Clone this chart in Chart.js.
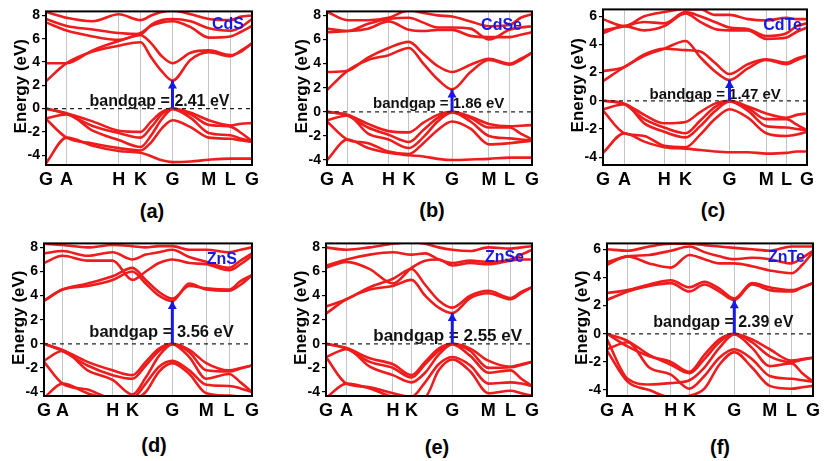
<!DOCTYPE html>
<html><head><meta charset="utf-8">
<script src="https://cdn.jsdelivr.net/npm/chart.js@4.4.0/dist/chart.umd.min.js"></script>
<style>
html,body{margin:0;padding:0;background:#fff;overflow:hidden;width:825px;height:461px;position:relative;}
canvas{position:absolute;}
.lab{position:absolute;font:bold 20px "Liberation Sans",Arial,sans-serif;transform:translate(-50%,-50%);color:#000;white-space:nowrap;}
</style></head><body>
<script>
// ---------- data ----------
const kLabels = ['G','A','H','K','G','M','L','G'];
const yTicks8 = [-4,-3,-2,-1,0,1,2,3,4,5,6,7,8];
const yTicks6 = [-4,-3,-2,-1,0,1,2,3,4,5,6];
const names = ['CdS','CdSe','CdTe','ZnS','ZnSe','ZnTe'];
const panelTags = ['(a)','(b)','(c)','(d)','(e)','(f)'];
const gaps = [2.41, 1.86, 1.47, 3.56, 2.55, 2.39];

// high-symmetry point positions (fraction of path) for each panel
const kptsCdS  = [0, 0.10, 0.353, 0.459, 0.614, 0.79, 0.895, 1];
const kptsCdSe = [0, 0.10, 0.30, 0.40, 0.61, 0.79, 0.89, 1];
const kptsCdTe = [0, 0.105, 0.30, 0.405, 0.62, 0.80, 0.90, 1];
const kptsZnS  = [0, 0.089, 0.33, 0.425, 0.617, 0.78, 0.89, 1];
const kptsZnSe = [0, 0.10, 0.325, 0.415, 0.613, 0.788, 0.896, 1];
const kptsZnTe = [0, 0.10, 0.31, 0.40, 0.618, 0.79, 0.896, 1];

// band energies (eV) at: G, A, A-H mid, H, K, K-G 1/3, K-G 2/3, G, G-M mid, M, L, L-G mid, G
const bandsCdS = [
 [0,-0.4,-1.1,-1.9,-2.0,-1.1,-0.3,0,-0.35,-1.0,-1.45,-1.3,-1.25],
 [0,-0.45,-1.5,-2.1,-2.5,-1.6,-0.5,0,-0.5,-1.4,-1.55,-2.1,-2.8],
 [-0.85,-0.5,-1.9,-2.7,-3.3,-2.3,-0.9,-0.05,-0.8,-2.1,-2.3,-2.6,-2.8],
 [-0.9,-2.5,-3.0,-3.4,-3.6,-2.9,-1.7,-1.0,-1.6,-2.5,-2.6,-2.75,-2.85],
 [-4.7,-2.5,-3.2,-3.65,-3.8,-4.1,-4.45,-4.6,-4.55,-4.4,-4.3,-4.3,-4.3],
 [2.35,3.9,4.9,5.4,5.7,4.4,3.2,2.41,4.2,4.85,4.5,5.0,5.6],
 [3.9,3.9,5.0,5.8,6.3,5.6,4.5,3.9,4.8,5.0,4.6,4.9,5.6],
 [7.4,6.7,6.2,5.9,6.5,7.1,7.4,7.5,7.0,6.1,6.2,6.6,7.1],
 [7.7,7.1,6.8,6.5,6.4,7.2,7.6,7.7,7.5,6.9,6.7,7.0,7.7],
 [8.3,7.8,7.5,8.1,7.6,8.0,8.3,8.4,8.1,7.7,7.6,7.9,8.0]
];
const bandsCdSe = [
 [0,-0.25,-1.0,-1.6,-1.7,-0.9,-0.25,0,-0.4,-1.0,-1.2,-1.15,-1.1],
 [0,-0.3,-1.3,-1.9,-2.5,-1.5,-0.5,0,-0.5,-1.3,-1.3,-1.8,-2.3],
 [-0.7,-0.3,-1.8,-2.3,-3.0,-2.1,-0.8,-0.05,-0.8,-2.0,-2.2,-2.3,-2.4],
 [-0.8,-2.3,-2.6,-3.3,-3.5,-2.6,-1.5,-0.8,-1.4,-2.7,-2.6,-2.5,-2.4],
 [-4.0,-2.3,-3.0,-3.4,-3.6,-3.7,-3.9,-4.0,-3.95,-3.9,-3.8,-3.8,-3.8],
 [1.8,3.4,4.3,4.7,5.3,4.0,2.7,1.86,3.3,4.3,3.9,4.3,4.9],
 [3.3,3.4,4.5,5.3,5.8,4.8,3.8,3.3,3.9,4.4,4.0,4.4,4.9],
 [6.6,6.7,6.9,7.5,6.8,6.7,6.8,6.8,6.3,6.2,6.2,6.4,6.6],
 [6.9,6.7,7.3,7.7,7.8,7.4,7.0,7.0,6.9,6.0,6.8,7.0,7.1],
 [8.3,7.6,7.6,7.8,8.4,8.2,8.0,7.9,7.5,7.1,7.2,7.8,8.1]
];
const bandsCdTe = [
 [0,-0.2,-1.0,-1.6,-1.5,-0.8,-0.2,0,-0.4,-0.9,-1.2,-1.0,-0.9],
 [0,-0.25,-1.3,-1.9,-2.3,-1.4,-0.45,0,-0.5,-1.3,-1.3,-1.7,-2.1],
 [-0.6,-0.25,-1.6,-2.2,-2.6,-1.8,-0.75,-0.05,-0.7,-1.8,-1.9,-2.0,-2.1],
 [-0.7,-2.3,-2.5,-3.2,-3.3,-2.4,-1.3,-0.6,-1.2,-2.3,-2.5,-2.4,-2.2],
 [-3.7,-2.3,-2.9,-3.3,-3.4,-3.5,-3.6,-3.65,-3.65,-3.75,-3.7,-3.6,-3.6],
 [1.4,2.4,3.2,3.7,4.25,3.1,2.1,1.47,2.3,2.9,2.6,2.9,3.2],
 [2.1,2.4,3.3,3.7,3.6,3.5,2.7,1.9,2.6,2.95,2.7,3.0,3.2],
 [4.8,5.3,5.0,5.3,6.2,5.6,5.1,5.0,5.0,4.4,4.5,4.9,5.2],
 [5.0,5.3,5.6,5.5,6.3,6.0,5.6,5.2,5.1,4.6,4.8,5.3,5.5],
 [5.8,5.3,6.0,6.3,6.5,6.5,6.1,6.1,5.8,5.7,5.9,5.8,5.8]
];
const bandsZnS = [
 [0,-0.5,-1.5,-2.2,-2.6,-1.5,-0.4,0,-0.5,-1.6,-2.2,-2.0,-1.8],
 [0,-0.6,-1.8,-2.6,-2.9,-1.8,-0.6,0,-0.7,-2.2,-2.3,-2.05,-1.8],
 [-1.4,-0.6,-2.2,-3.0,-4.2,-2.8,-1.0,-0.05,-1.1,-2.9,-2.5,-3.2,-4.0],
 [-1.5,-3.3,-3.8,-4.5,-4.5,-3.3,-1.9,-1.4,-2.2,-3.4,-3.5,-3.7,-4.0],
 [-4.5,-3.3,-4.1,-4.6,-4.6,-4.0,-2.3,-1.6,-2.5,-4.1,-4.3,-4.4,-4.5],
 [3.55,4.5,4.8,5.3,6.0,5.0,4.0,3.56,5.0,4.5,4.4,4.9,5.7],
 [3.6,4.5,5.0,5.6,6.3,5.3,4.3,3.75,4.8,4.6,4.5,5.2,5.7],
 [6.7,7.3,6.9,6.9,5.3,6.0,6.7,7.0,6.7,6.6,6.1,6.6,7.3],
 [7.5,7.7,7.3,7.6,7.0,7.4,7.6,7.8,7.2,6.8,6.3,6.9,7.5],
 [8.3,8.2,8.0,8.2,8.1,8.0,8.1,8.1,7.8,7.8,7.6,7.8,8.0]
];
const bandsZnSe = [
 [0,-0.35,-1.2,-1.7,-2.6,-1.5,-0.4,0,-0.4,-1.4,-1.9,-1.7,-1.5],
 [0,-0.4,-1.5,-2.0,-2.8,-1.7,-0.6,0,-0.6,-2.0,-1.95,-1.75,-1.5],
 [-1.1,-0.45,-1.9,-2.6,-3.2,-2.4,-0.9,-0.05,-1.0,-2.4,-2.2,-2.9,-3.5],
 [-1.1,-3.3,-3.6,-4.1,-4.4,-3.2,-1.7,-1.1,-1.8,-3.3,-3.2,-3.3,-3.5],
 [-4.5,-3.3,-3.7,-4.4,-4.5,-4.4,-2.2,-1.3,-2.3,-4.1,-3.9,-4.1,-4.3],
 [2.5,3.7,4.5,4.8,5.3,4.0,3.0,2.55,3.8,4.2,3.7,4.2,4.7],
 [3.1,3.7,4.7,5.4,6.2,4.9,3.6,3.0,4.0,4.4,3.8,4.3,4.7],
 [6.3,6.8,6.2,5.0,6.3,6.9,7.0,6.5,6.7,6.6,6.9,7.0,7.0],
 [6.5,7.0,7.4,7.6,7.4,7.5,7.0,6.7,6.9,6.8,7.0,7.4,7.8],
 [8.0,7.8,8.0,8.3,8.4,8.3,8.0,7.8,7.7,8.0,7.9,8.0,8.1]
];
const bandsZnTe = [
 [0,-0.9,-1.6,-2.0,-2.7,-1.5,-0.4,0,-0.4,-1.1,-1.9,-1.8,-1.7],
 [0,-0.5,-1.5,-2.2,-2.8,-1.8,-0.6,0,-0.6,-1.6,-2.0,-1.85,-1.7],
 [-0.4,-3.2,-3.6,-3.5,-3.3,-2.4,-1.0,-0.05,-1.0,-2.3,-2.1,-2.8,-3.4],
 [-1.1,-0.6,-2.4,-2.9,-3.9,-3.0,-1.7,-1.1,-1.8,-3.0,-3.2,-3.3,-3.4],
 [-1.2,-3.4,-4.0,-4.5,-4.4,-3.9,-2.2,-1.3,-2.4,-3.7,-3.9,-3.8,-3.7],
 [2.4,3.0,3.4,3.6,3.0,3.5,3.0,2.39,3.5,3.1,3.0,3.3,3.6],
 [2.9,3.1,3.5,3.8,3.3,3.7,3.2,2.5,3.6,3.3,3.1,3.3,3.6],
 [4.9,5.5,5.0,4.7,5.6,5.3,5.0,5.0,4.8,4.5,4.3,4.9,5.8],
 [5.1,5.5,5.6,5.9,6.2,5.8,5.5,5.3,5.4,5.3,5.0,5.4,5.9],
 [6.0,5.9,6.2,6.4,6.4,6.3,6.2,6.1,6.0,5.9,6.2,6.2,6.2]
];

// ---------- layout (pixels / styles only) ----------
const layout = [
 {L:46, T:9,   R:258, B:165, ymin:-4.85, ymax:8.35, gapDx:-83, gapFont:16, gapDy:3, nameInset:8,  nameDy:13, labX:152, labY:211},
 {L:327,T:9,   R:538, B:165, ymin:-4.41, ymax:8.33, gapDx:-79, gapFont:15, gapDy:4, nameInset:10, nameDy:14, labX:432, labY:210},
 {L:603,T:7,   R:813, B:165, ymin:-4.56, ymax:6.49, gapDx:-80, gapFont:15, gapDy:2, nameInset:5,  nameDy:16, labX:713, labY:210},
 {L:44, T:241, R:258, B:396, ymin:-4.33, ymax:8.33, gapDx:-83, gapFont:16.5, gapDy:7, nameInset:15, nameDy:16, labX:154, labY:445},
 {L:326,T:241, R:538, B:396, ymin:-4.33, ymax:8.33, gapDx:-79, gapFont:17, gapDy:3, nameInset:8,  nameDy:14, labX:437, labY:447},
 {L:607,T:241, R:819, B:396, ymin:-4.42, ymax:6.42, gapDx:-81, gapFont:16, gapDy:7, nameInset:8,  nameDy:14, labX:720, labY:447}
];
const kptsAll = [kptsCdS,kptsCdSe,kptsCdTe,kptsZnS,kptsZnSe,kptsZnTe];
const bandsAll = [bandsCdS,bandsCdSe,bandsCdTe,bandsZnS,bandsZnSe,bandsZnTe];
const yTicksAll = [yTicks8,yTicks8,yTicks6,yTicks8,yTicks8,yTicks6];

const FONT = '"Liberation Sans", Arial, sans-serif';
const RED = '#ee1c1c';
const BLUE = '#1818e6';
const PADT = 8, PADR = 5, YW = 44, XH = 30;

function sampleX(k){
  return [k[0], k[1], (k[1]+k[2])/2, k[2], k[3], k[3]+(k[4]-k[3])/3, k[3]+2*(k[4]-k[3])/3,
          k[4], (k[4]+k[5])/2, k[5], k[6], (k[6]+k[7])/2, k[7]];
}

const decor = {
  id:'decor',
  beforeDatasetsDraw(chart){
    const o = chart.options.plugins.decor, ctx = chart.ctx;
    const xs = chart.scales.x, ys = chart.scales.y;
    ctx.save();
    ctx.font = 'bold ' + o.gapFont + 'px ' + FONT;
    ctx.fillStyle = '#111';
    ctx.textAlign = 'left';
    ctx.textBaseline = 'alphabetic';
    ctx.fillText('bandgap = ' + o.gap.toFixed(2) + ' eV', xs.getPixelForValue(o.gx) + o.gapDx, ys.getPixelForValue(0) - o.gapDy);
    ctx.restore();
  },
  afterDatasetsDraw(chart){
    const o = chart.options.plugins.decor, ctx = chart.ctx;
    const xs = chart.scales.x, ys = chart.scales.y, a = chart.chartArea;
    const px = xs.getPixelForValue(o.gx), py = ys.getPixelForValue(o.gap);
    ctx.save();
    ctx.fillStyle = BLUE;
    ctx.beginPath();
    ctx.moveTo(px, py);
    ctx.lineTo(px - 4.5, py + 8);
    ctx.lineTo(px + 4.5, py + 8);
    ctx.closePath();
    ctx.fill();
    ctx.font = 'bold 16px ' + FONT;
    ctx.fillStyle = BLUE;
    ctx.textAlign = 'right';
    ctx.textBaseline = 'middle';
    ctx.fillText(o.name, a.right - o.nameInset, a.top + o.nameDy);
    ctx.strokeStyle = '#000';
    ctx.lineWidth = 2;
    ctx.strokeRect(a.left, a.top, a.right - a.left, a.bottom - a.top);
    ctx.translate(a.left - 25, (a.top + a.bottom) / 2 - 2);
    ctx.rotate(-Math.PI / 2);
    ctx.font = 'bold 17px ' + FONT;
    ctx.fillStyle = '#000';
    ctx.textAlign = 'center';
    ctx.textBaseline = 'middle';
    ctx.fillText('Energy (eV)', 0, 0);
    ctx.restore();
  }
};

for (let p = 0; p < 6; p++) {
  const lay = layout[p], k = kptsAll[p], xsamp = sampleX(k);
  const cv = document.createElement('canvas');
  const w = (lay.R - lay.L) + YW + PADR, h = (lay.B - lay.T) + PADT + XH;
  cv.width = w; cv.height = h;
  cv.style.left = (lay.L - YW) + 'px'; cv.style.top = (lay.T - PADT) + 'px';
  cv.style.width = w + 'px'; cv.style.height = h + 'px';
  document.body.appendChild(cv);

  const datasets = [];
  datasets.push({
    data: [{x:k[4], y:0}, {x:k[4], y:gaps[p]}],
    borderColor: BLUE, borderWidth: 3, pointRadius: 0, order: 0, clip: 0
  });
  datasets.push({
    data: [{x:0, y:0}, {x:1, y:0}],
    borderColor: '#222', borderWidth: 1.2, borderDash: [4, 4], pointRadius: 0, order: 1, clip: 0
  });
  bandsAll[p].forEach(b => {
    datasets.push({
      data: b.map((v, i) => ({x: xsamp[i], y: v})),
      borderColor: RED, borderWidth: 2.6, pointRadius: 0,
      cubicInterpolationMode: 'monotone', order: 2, clip: 0
    });
  });

  const yt = yTicksAll[p];
  new Chart(cv, {
    type: 'line',
    data: {datasets},
    options: {
      responsive: false, animation: false, devicePixelRatio: 1,
      layout: {padding: {top: PADT, right: PADR, left: 0, bottom: 0}},
      plugins: {
        legend: {display: false}, tooltip: {enabled: false},
        decor: {gap: gaps[p], gx: k[4], name: names[p], gapDx: lay.gapDx, gapFont: lay.gapFont,
                gapDy: lay.gapDy, nameInset: lay.nameInset, nameDy: lay.nameDy}
      },
      scales: {
        x: {
          type: 'linear', min: 0, max: 1,
          afterBuildTicks: s => { s.ticks = k.map(v => ({value: v})); },
          afterFit: s => { s.height = XH; },
          ticks: {autoSkip: false, maxRotation: 0, padding: 4, color: '#000',
                  font: {family: FONT, size: 18, weight: 'bold'},
                  callback: (v, i) => kLabels[i]},
          grid: {drawTicks: false, lineWidth: 1,
                 color: c => (c.index === 0 || c.index === k.length - 1) ? 'rgba(0,0,0,0)' : '#c4c4c4'},
          border: {display: false}
        },
        y: {
          type: 'linear', min: lay.ymin, max: lay.ymax,
          afterBuildTicks: s => { s.ticks = yt.map(v => ({value: v})); },
          afterFit: s => { s.width = YW; },
          ticks: {padding: 2, color: '#000', font: {family: FONT, size: 14, weight: 'bold'},
                  callback: v => (v % 2 === 0 ? String(v) : '')},
          grid: {drawOnChartArea: false, drawTicks: true, tickLength: 4, color: '#000', lineWidth: 1.2},
          border: {display: false}
        }
      }
    },
    plugins: [decor]
  });

  const lab = document.createElement('div');
  lab.className = 'lab';
  lab.textContent = panelTags[p];
  lab.style.left = lay.labX + 'px';
  lab.style.top = lay.labY + 'px';
  document.body.appendChild(lab);
}
</script>
</body></html>
